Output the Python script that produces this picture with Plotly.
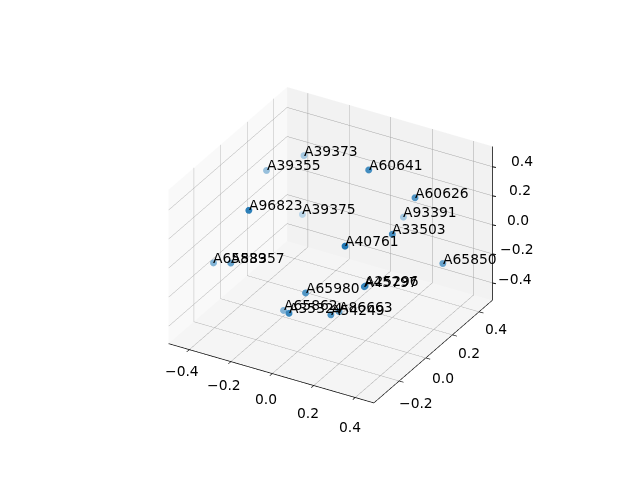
import plotly.graph_objects as go
import math

labels = ["A39373","A39355","A60641","A60626","A93391","A33503","A96823","A39375","A40761","A65850",
          "A65839","A58357","A25296","A45797","A65980","A65862","A35324","A54249","A86663"]
xs = [-0.315,-0.409,0.132,0.304,0.110,0.285,-0.213,-0.306,0.199,0.426,-0.458,-0.343,0.262,0.260,0.006,-0.154,0.015,0.121,0.100]
ys = [0.338,0.203,0.128,0.208,0.423,0.067,-0.235,0.312,-0.154,0.227,-0.119,-0.168,-0.101,-0.104,-0.150,-0.066,-0.288,-0.139,-0.045]
zs = [0.274,0.240,0.526,0.342,-0.042,0.195,0.394,-0.107,0.253,-0.076,-0.161,-0.076,-0.038,-0.041,-0.152,-0.405,-0.179,-0.264,-0.325]
x_ticks = [-0.4,-0.2,0.0,0.2,0.4]
y_ticks = [-0.2,0.0,0.2,0.4]
z_ticks = [-0.4,-0.2,0.0,0.2,0.4]

xr, yr, zr = [-0.5,0.49], [-0.39,0.5], [-0.52,0.54]
el, az = math.radians(30), math.radians(-60)
dirv = (math.cos(el)*math.cos(az), math.cos(el)*math.sin(az), math.sin(el))
R = 2.12
FS = 13.89

def depth(x,y,z):
    px=(x-sum(xr)/2)/(xr[1]-xr[0]); py=(y-sum(yr)/2)/(yr[1]-yr[0]); pz=0.75*(z-sum(zr)/2)/(zr[1]-zr[0])
    return px*dirv[0]+py*dirv[1]+pz*dirv[2]
ds=[depth(*p) for p in zip(xs,ys,zs)]
lo,hi=min(ds),max(ds)
def blend(d):
    a=0.3+0.7*(d-lo)/(hi-lo)
    c=[round(a*v+(1-a)*255) for v in (31,119,180)]
    return f"rgb({c[0]},{c[1]},{c[2]})"
colors=[blend(d) for d in ds]

def fmt(t):
    return f"{t:.1f}".replace("-","\u2212")

def ax(rng,ticks,bg,line=True):
    return dict(range=rng,tickvals=ticks,showticklabels=False,
                title=dict(text=""),showbackground=True,backgroundcolor=bg,
                gridcolor="#a6a6a6",gridwidth=1,showline=line,linecolor="black",linewidth=1.5,
                zeroline=False,showspikes=False,ticks="outside" if line else "",ticklen=5,tickwidth=1.5,tickcolor="black")

font=dict(family="DejaVu Sans",size=FS,color="black")
anns=[]
for x,y,z,t in zip(xs,ys,zs,labels):
    anns.append(dict(x=x,y=y,z=z,text=t,showarrow=False,xanchor="left",yanchor="bottom",xshift=-2,yshift=-5,font=font))
for t in x_ticks:
    anns.append(dict(x=t,y=yr[0],z=zr[0],text=fmt(t),showarrow=False,xanchor="center",yanchor="middle",xshift=-6+2.5*t,yshift=-25-10*t,font=font))
for t in y_ticks:
    anns.append(dict(x=xr[1],y=t,z=zr[0],text=fmt(t),showarrow=False,xanchor="center",yanchor="middle",xshift=17,yshift=-20+8*t,font=font))
for t in z_ticks:
    anns.append(dict(x=xr[1],y=yr[1],z=t,text=fmt(t),showarrow=False,xanchor="center",yanchor="middle",xshift=26+8*t,yshift=5+2.5*t,font=font))
    anns.append(dict(x=xr[1],y=yr[1],z=t,text="",showarrow=True,arrowhead=0,arrowwidth=1,arrowcolor="black",ax=5,ay=1,standoff=0))

fig=go.Figure()
fig.add_trace(go.Scatter3d(x=[xr[1],xr[1]],y=[yr[1],yr[1]],z=zr,mode="lines",line=dict(color="black",width=1.5),hoverinfo="skip"))
fig.add_trace(go.Scatter3d(x=xs,y=ys,z=zs,mode="markers",
    marker=dict(size=4,color=colors,line=dict(width=0)),hoverinfo="skip"))
fig.update_layout(width=640,height=480,margin=dict(l=0,r=0,t=0,b=0),paper_bgcolor="white",showlegend=False,
    scene=dict(xaxis=ax(xr,x_ticks,"#f9f9f9"),yaxis=ax(yr,y_ticks,"#f2f2f2"),zaxis=ax(zr,z_ticks,"#f5f5f5",line=False),
        aspectmode="manual",aspectratio=dict(x=1,y=1,z=0.75),
        domain=dict(x=[0.008,1],y=[0.012,1]),annotations=anns,
        camera=dict(eye=dict(x=R*dirv[0],y=R*dirv[1],z=R*dirv[2]),up=dict(x=0,y=0,z=1),center=dict(x=0,y=0,z=0),
                    projection=dict(type="orthographic"))))
fig.write_html("out.html")
